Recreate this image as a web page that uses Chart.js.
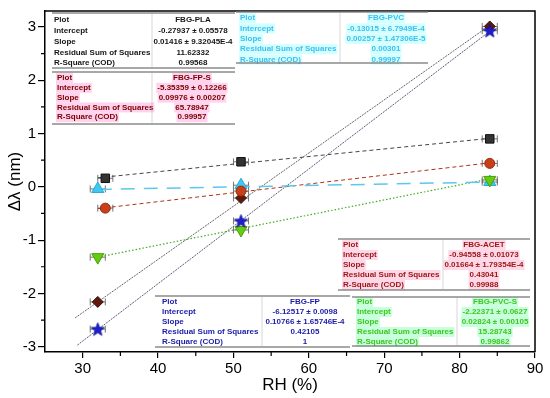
<!DOCTYPE html>
<html>
<head>
<meta charset="utf-8">
<script src="https://cdn.jsdelivr.net/npm/chart.js@4.4.1/dist/chart.umd.min.js"></script>
<style>
  html, body { margin: 0; padding: 0; background: #fff; }
  #wrap { width: 550px; height: 398px; }
</style>
</head>
<body>
<div id="wrap"><canvas id="grafico" width="550" height="398"></canvas></div>
<script>
// ejes
var xTicks = [30, 40, 50, 60, 70, 80, 90];
var yTicks = [-3, -2, -1, 0, 1, 2, 3];

// puntos medidos (RH %, delta lambda nm)
var rhPLA = [33, 51, 84],  dlPLA = [0.16, 0.47, 0.90];
var rhPVC = [32, 51, 84],  dlPVC = [-0.04, 0.03, 0.09];
var rhFPS = [32, 51, 84],  dlFPS = [-2.16, -0.21, 3.01];
var rhACET = [33, 51, 84], dlACET = [-0.40, -0.08, 0.44];
var rhPVCS = [32, 51, 84], dlPVCS = [-1.32, -0.81, 0.13];
var rhFP = [32, 51, 84],   dlFP = [-2.67, -0.64, 2.93];
var rhErr = [1, 1, 1];

// extremos de las rectas de ajuste
var fitXPLA = [32, 84],   fitYPLA = [0.17, 0.91];
var fitXPVC = [32, 84],   fitYPVC = [-0.05, 0.09];
var fitXFPS = [29, 84],   fitYFPS = [-2.46, 3.03];
var fitXACET = [32, 84],  fitYACET = [-0.41, 0.45];
var fitXPVCS = [32, 84],  fitYPVCS = [-1.32, 0.15];
var fitXFP = [29.3, 84],  fitYFP = [-2.97, 2.92];

// tablas de ajuste
var tblRows = ["Plot", "Intercept", "Slope", "Residual Sum of Squares", "R-Square (COD)"];
var tblPLA = ["FBG-PLA", "-0.27937 \u00b1 0.05578", "0.01416 \u00b1 9.32045E-4", "11.62332", "0.99568"];
var tblPVC = ["FBG-PVC", "-0.13015 \u00b1 6.7949E-4", "0.00257 \u00b1 1.47306E-5", "0.00301", "0.99997"];
var tblFPS = ["FBG-FP-S", "-5.35359 \u00b1 0.12266", "0.09976 \u00b1 0.00207", "65.78947", "0.99957"];
var tblACET = ["FBG-ACET", "-0.94558 \u00b1 0.01073", "0.01664 \u00b1 1.79354E-4", "0.43041", "0.99988"];
var tblPVCS = ["FBG-PVC-S", "-2.22371 \u00b1 0.0627", "0.02824 \u00b1 0.00105", "15.28743", "0.99862"];
var tblFP = ["FBG-FP", "-6.12517 \u00b1 0.0098", "0.10766 \u00b1 1.65746E-4", "0.42105", "1"];

var FUENTE = '"Liberation Sans", Arial, sans-serif';

function pts(xs, ys) {
    return xs.map(function (x, i) { return { x: x, y: ys[i] }; });
}

function imagenEstrella(size, fill, stroke) {
    var c = document.createElement("canvas");
    c.width = size; c.height = size;
    var g = c.getContext("2d");
    var cx = size / 2, cy = size / 2 + 0.6, R = size / 2 - 0.5, r = R * 0.42;
    g.beginPath();
    for (var i = 0; i < 10; i++) {
        var a = -Math.PI / 2 + i * Math.PI / 5;
        var rr = i % 2 ? r : R;
        g.lineTo(cx + rr * Math.cos(a), cy + rr * Math.sin(a));
    }
    g.closePath();
    g.fillStyle = fill; g.fill();
    g.strokeStyle = stroke; g.lineWidth = 0.8; g.stroke();
    return c;
}

function recta(xs, ys, color, dash, width) {
    return {
        data: pts(xs, ys), showLine: true, borderColor: color, borderWidth: width || 1,
        borderDash: dash, pointRadius: 0, fill: false, order: 20
    };
}

function serie(xs, ys, estilo, radio, fondo, borde, orden, rot) {
    return {
        data: pts(xs, ys), showLine: false, pointStyle: estilo, pointRadius: radio,
        pointRotation: rot || 0, backgroundColor: fondo, borderColor: borde, borderWidth: 1,
        errX: rhErr, order: orden
    };
}

var tablas = [
    { vals: tblPLA, x0: 52, x1: 235, div: 152, lx: 54, vx: 193, ry: 20, dy: 10.8, y0: 13, y1: 68, color: "#161616", hl: null },
    { vals: tblPVC, x0: 236, x1: 428, div: 340, lx: 240, vx: 386, ry: 18, dy: 10.4, y0: 12, y1: 63, color: "#3fbfee", hl: "#d2ffff" },
    { vals: tblFPS, x0: 52, x1: 235, div: 152, lx: 57, vx: 192, ry: 78, dy: 9.8, y0: 72, y1: 124, color: "#7a0000", hl: "#ffd2ee" },
    { vals: tblACET, x0: 338, x1: 530, div: 443, lx: 343, vx: 484, ry: 245, dy: 10, y0: 239, y1: 290, color: "#991414", hl: "#ffd8e8" },
    { vals: tblPVCS, x0: 352, x1: 530, div: 457, lx: 357, vx: 495, ry: 302, dy: 10, y0: 297, y1: 346, color: "#3cc81e", hl: "#c8ffdc" },
    { vals: tblFP, x0: 155, x1: 350, div: 262, lx: 162, vx: 305, ry: 302, dy: 10, y0: 296, y1: 347, color: "#1c1ca8", hl: null }
];

function dibujarTabla(ctx, t) {
    ctx.save();
    ctx.font = "bold 8px " + FUENTE;
    ctx.textBaseline = "middle";
    tblRows.forEach(function (etq, i) {
        var y = t.ry + i * t.dy;
        var val = t.vals[i];
        if (t.hl) {
            ctx.fillStyle = t.hl;
            var w = ctx.measureText(etq).width;
            ctx.fillRect(t.lx - 1, y - 5, w + 2, 10);
            var vw = ctx.measureText(val).width;
            ctx.fillRect(t.vx - vw / 2 - 1, y - 5, vw + 2, 10);
        }
        ctx.fillStyle = t.color;
        ctx.textAlign = "left";
        ctx.fillText(etq, t.lx, y);
        ctx.textAlign = "center";
        ctx.fillText(val, t.vx, y);
    });
    ctx.strokeStyle = "rgba(120,120,120,0.85)";
    ctx.lineWidth = 1.4;
    ctx.beginPath();
    ctx.moveTo(t.x0, t.y0); ctx.lineTo(t.x1, t.y0);
    ctx.moveTo(t.x0, t.y1); ctx.lineTo(t.x1, t.y1);
    ctx.stroke();
    ctx.strokeStyle = "rgba(160,160,160,0.6)";
    ctx.lineWidth = 0.7;
    ctx.beginPath();
    ctx.moveTo(t.div, t.y0); ctx.lineTo(t.div, t.y1);
    ctx.stroke();
    ctx.restore();
}

var decorado = {
    id: "decorado",
    beforeDatasetsDraw: function (chart) {
        var ctx = chart.ctx, xs = chart.scales.x, ys = chart.scales.y, a = chart.chartArea;
        ctx.save();
        // barras de error horizontales
        chart.data.datasets.forEach(function (ds) {
            if (!ds.errX) { return; }
            ctx.strokeStyle = "#666";
            ctx.lineWidth = 0.9;
            ds.data.forEach(function (p, i) {
                var xa = xs.getPixelForValue(p.x - ds.errX[i]);
                var xb = xs.getPixelForValue(p.x + ds.errX[i]);
                var py = ys.getPixelForValue(p.y);
                ctx.beginPath();
                ctx.moveTo(xa, py); ctx.lineTo(xb, py);
                ctx.moveTo(xa, py - 3.5); ctx.lineTo(xa, py + 3.5);
                ctx.moveTo(xb, py - 3.5); ctx.lineTo(xb, py + 3.5);
                ctx.stroke();
            });
        });
        // marco superior y derecho
        ctx.strokeStyle = "#000";
        ctx.lineWidth = 1.5;
        ctx.beginPath();
        ctx.moveTo(a.left, a.top); ctx.lineTo(a.right, a.top); ctx.lineTo(a.right, a.bottom);
        ctx.stroke();
        // ticks menores
        ctx.lineWidth = 1.2;
        ctx.beginPath();
        for (var i = 0; i < xTicks.length; i++) {
            var vx = xTicks[i] - 5;
            if (vx > xs.min) {
                var px = xs.getPixelForValue(vx);
                ctx.moveTo(px, a.bottom); ctx.lineTo(px, a.bottom + 4);
            }
        }
        for (var j = 0; j < yTicks.length - 1; j++) {
            var py = ys.getPixelForValue(yTicks[j] + 0.5);
            ctx.moveTo(a.left, py); ctx.lineTo(a.left - 4, py);
        }
        ctx.stroke();
        ctx.restore();
    },
    afterDatasetsDraw: function (chart) {
        tablas.forEach(function (t) { dibujarTabla(chart.ctx, t); });
    }
};

var estrella = imagenEstrella(15, "#1f1fd2", "#0c0c90");

new Chart(document.getElementById("grafico").getContext("2d"), {
    type: "scatter",
    data: {
        datasets: [
            recta(fitXPLA, fitYPLA, "#444444", [4, 3], 1),
            recta(fitXPVC, fitYPVC, "#5cc8ee", [14, 9], 1.5),
            recta(fitXFPS, fitYFPS, "#555555", [2, 1], 0.9),
            recta(fitXACET, fitYACET, "#b0301a", [4, 3], 1),
            recta(fitXPVCS, fitYPVCS, "#44aa22", [1.5, 2], 1.2),
            recta(fitXFP, fitYFP, "#4a4a6e", [2, 1], 0.9),
            serie(rhPLA, dlPLA, "rect", 6, "#333333", "#111111", 6),
            serie(rhPVC, dlPVC, "triangle", 7, "#3ec8f2", "#2aa8d8", 5),
            serie(rhFPS, dlFPS, "rectRot", 5.5, "#5c1a0e", "#3c0c04", 4),
            serie(rhACET, dlACET, "circle", 5, "#c8401a", "#9c2a0a", 3),
            serie(rhPVCS, dlPVCS, "triangle", 7, "#66cc11", "#48a008", 2, 180),
            serie(rhFP, dlFP, estrella, 7.5, "#1f1fd2", "#0c0c90", 1)
        ]
    },
    options: {
        responsive: false,
        animation: false,
        devicePixelRatio: 1,
        layout: { padding: { top: 8, right: 15, left: 0, bottom: 0 } },
        plugins: { legend: { display: false }, tooltip: { enabled: false } },
        scales: {
            x: {
                type: "linear", min: 25, max: 90,
                afterBuildTicks: function (s) { s.ticks = xTicks.map(function (v) { return { value: v }; }); },
                afterFit: function (s) { s.height = 46; },
                ticks: { color: "#000", font: { size: 15, family: FUENTE }, padding: 2, maxRotation: 0 },
                grid: { drawOnChartArea: false, drawTicks: true, tickLength: 6, color: "#000", lineWidth: 1.2 },
                border: { display: true, color: "#000", width: 1.5 },
                title: { display: true, text: "RH (%)", color: "#000", font: { size: 17, family: FUENTE }, padding: { top: 0, bottom: 2 } }
            },
            y: {
                type: "linear", min: -3.1, max: 3.3,
                afterBuildTicks: function (s) { s.ticks = yTicks.map(function (v) { return { value: v }; }); },
                afterFit: function (s) { s.width = 45; },
                ticks: { color: "#000", font: { size: 15, family: FUENTE }, padding: 2 },
                grid: { drawOnChartArea: false, drawTicks: true, tickLength: 7, color: "#000", lineWidth: 1.2 },
                border: { display: true, color: "#000", width: 1.5 },
                title: { display: true, text: "\u0394\u03bb (nm)", color: "#000", font: { size: 17, family: FUENTE }, padding: { top: 5, bottom: 0 } }
            }
        }
    },
    plugins: [decorado]
});
</script>
</body>
</html>
